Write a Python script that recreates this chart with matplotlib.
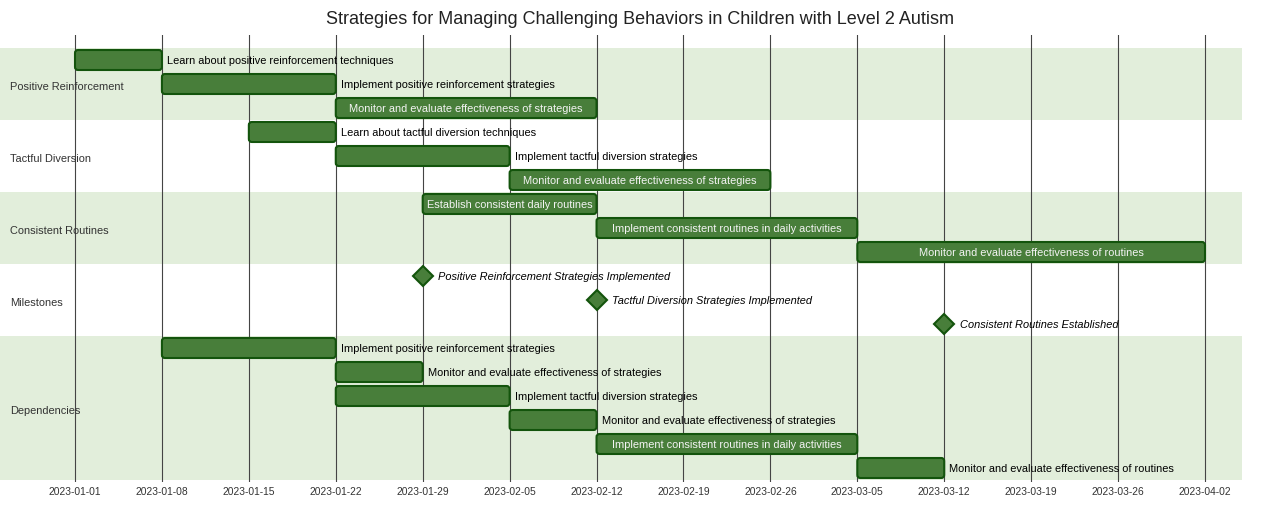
import matplotlib
matplotlib.use("Agg")
import matplotlib.pyplot as plt
import matplotlib.dates as mdates
from matplotlib.patches import FancyBboxPatch
import datetime as dt

plt.rcParams['font.family'] = ['Liberation Sans', 'DejaVu Sans']

title = "Strategies for Managing Challenging Behaviors in Children with Level 2 Autism"

sections = ["Positive Reinforcement", "Tactful Diversion", "Consistent Routines",
            "Milestones", "Dependencies"]
section_rows = [(0, 2), (3, 5), (6, 8), (9, 11), (12, 17)]

task_labels = [
    "Learn about positive reinforcement techniques",
    "Implement positive reinforcement strategies",
    "Monitor and evaluate effectiveness of strategies",
    "Learn about tactful diversion techniques",
    "Implement tactful diversion strategies",
    "Monitor and evaluate effectiveness of strategies",
    "Establish consistent daily routines",
    "Implement consistent routines in daily activities",
    "Monitor and evaluate effectiveness of routines",
    "Implement positive reinforcement strategies",
    "Monitor and evaluate effectiveness of strategies",
    "Implement tactful diversion strategies",
    "Monitor and evaluate effectiveness of strategies",
    "Implement consistent routines in daily activities",
    "Monitor and evaluate effectiveness of routines",
]
task_rows = [0, 1, 2, 3, 4, 5, 6, 7, 8, 12, 13, 14, 15, 16, 17]
task_starts = ["2023-01-01", "2023-01-08", "2023-01-22", "2023-01-15", "2023-01-22",
               "2023-02-05", "2023-01-29", "2023-02-12", "2023-03-05",
               "2023-01-08", "2023-01-22", "2023-01-22", "2023-02-05", "2023-02-12",
               "2023-03-05"]
task_ends = ["2023-01-08", "2023-01-22", "2023-02-12", "2023-01-22", "2023-02-05",
             "2023-02-26", "2023-02-12", "2023-03-05", "2023-04-02",
             "2023-01-22", "2023-01-29", "2023-02-05", "2023-02-12", "2023-03-05",
             "2023-03-12"]

milestone_labels = ["Positive Reinforcement Strategies Implemented",
                    "Tactful Diversion Strategies Implemented",
                    "Consistent Routines Established"]
milestone_rows = [9, 10, 11]
milestone_dates = ["2023-01-29", "2023-02-12", "2023-03-12"]

tick_start = "2023-01-01"
tick_end = "2023-04-02"

# style
W, H = 1280, 532
task_fill = "#487e3a"
task_edge = "#13540c"
section_bg = "#e2eedb"
text_col = "#333333"
fs = 7.9

def d(s):
    return mdates.date2num(dt.datetime.strptime(s, "%Y-%m-%d"))

fig = plt.figure(figsize=(W / 100, H / 100), dpi=100)
ax_top, ax_bot = 35, 482
ax = fig.add_axes([0, 1 - ax_bot / H, 1, (ax_bot - ax_top) / H])

x0 = d(tick_start)
px_per_day = 1130 / 91.0
ax.set_xlim(x0 - 75 / px_per_day, x0 + (W - 75) / px_per_day)
row_px = 24
ax.set_ylim((ax_bot - 60) / row_px, (ax_top - 60) / row_px)

for s in ax.spines.values():
    s.set_visible(False)
ax.set_yticks([])

ticks = [x0 + 7 * i for i in range(int((d(tick_end) - x0) / 7) + 1)]
ax.set_xticks(ticks)
ax.xaxis.set_major_formatter(mdates.DateFormatter("%Y-%m-%d"))
ax.tick_params(axis='x', length=0, pad=3.5, labelsize=7.4, labelcolor=text_col)
ax.grid(axis='x', color='#444444', linewidth=0.8)
ax.set_axisbelow(True)

dy = 1 / row_px  # text baseline nudge (1px down)

# section bands
for i, (a, b) in enumerate(section_rows):
    if i % 2 == 0:
        ax.axhspan(a - 0.5, b + 0.5, xmin=0, xmax=1242 / W, color=section_bg,
                   zorder=0, linewidth=0)
    ax.text(10 / W, (a + b) / 2 + 2 / row_px + dy, sections[i],
            transform=ax.get_yaxis_transform(),
            ha='left', va='center', fontsize=fs, color=text_col, zorder=5)

bar_h = 20 / row_px
r_days = 3 / px_per_day
aspect = px_per_day / row_px

fig.canvas.draw()
renderer = fig.canvas.get_renderer()

for lab, row, s, e in zip(task_labels, task_rows, task_starts, task_ends):
    xs, xe = d(s), d(e)
    p = FancyBboxPatch((xs, row - bar_h / 2), xe - xs, bar_h,
                       boxstyle=f"round,pad=0,rounding_size={r_days}",
                       mutation_aspect=aspect, facecolor=task_fill,
                       edgecolor=task_edge, linewidth=1.5, zorder=3)
    ax.add_patch(p)
    t = ax.text((xs + xe) / 2, row + dy, lab, ha='center', va='center', fontsize=fs,
                color='#f4f4f4', zorder=4)
    tw = t.get_window_extent(renderer).width
    if tw > (xe - xs) * px_per_day:
        t.set_x(xe + 5 / px_per_day)
        t.set_ha('left')
        t.set_color('black')

for lab, row, s in zip(milestone_labels, milestone_rows, milestone_dates):
    xm = d(s)
    ax.plot([xm], [row], marker='D', ms=10.5, mfc=task_fill, mec=task_edge,
            mew=1.5, zorder=4, linestyle='none')
    ax.annotate(lab, (xm, row + dy), xytext=(11.25, 0), textcoords='offset points',
                ha='left', va='center', fontsize=fs, style='italic', color='black',
                zorder=5)

fig.text(0.5, 1 - 20 / H, title, ha='center', va='center', fontsize=12.96, color='#222222')

fig.savefig("out.png", dpi=100)
